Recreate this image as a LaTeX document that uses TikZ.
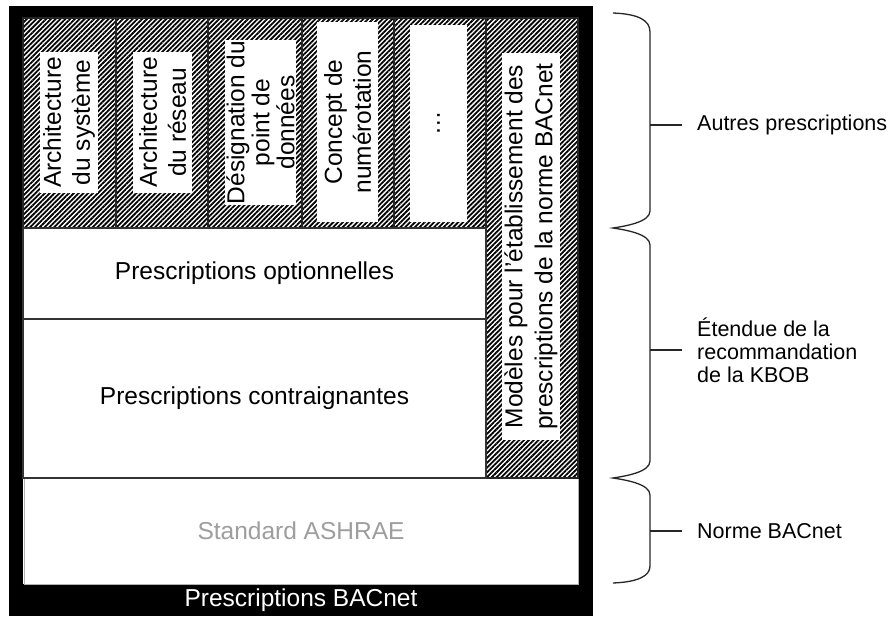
\documentclass[tikz,border=0pt]{standalone}
\usepackage{fontspec}
\setmainfont{Liberation Sans}
\usetikzlibrary{patterns.meta}
\begin{document}
\begin{tikzpicture}[x=1pt,y=-1pt,
  hatch/.style={pattern={Lines[angle=45,distance=3.4pt,line width=1.8pt]},pattern color=black},
  colbox/.style={hatch,draw=black!85,line width=1.3pt,inner sep=0pt},
  whitebox/.style={fill=white,draw=black!80,line width=1.2pt,inner sep=0pt,font=\fontsize{24.5}{29}\selectfont},
  coltext/.style={rotate=90,fill=white,align=center,inner sep=0pt,font=\fontsize{24.5}{29}\selectfont},
  bracestyle/.style={draw=black!85,line width=1.3pt},
  sidelabel/.style={anchor=west,align=left,inner sep=0pt,font=\fontsize{21.5}{23}\selectfont},
  tick/.style={draw=black!85,line width=1.3pt,shorten >=15pt}]
\useasboundingbox (0,0) rectangle (896,618);
% frame
\fill[black] (9,6) rectangle (593,616);
\fill[white] (23,18) rectangle (578,584);
% bottom box
\node[whitebox,draw=black!30,line width=0.8pt,minimum width=554,minimum height=106,text=black!38] (ashrae) at (301,531) {Standard ASHRAE};
% columns
\node[colbox,minimum width=93,minimum height=210] (c1) at (69.5,123) {};
\node[colbox,minimum width=92,minimum height=210] (c2) at (162,123) {};
\node[colbox,minimum width=94,minimum height=210] (c3) at (255,123) {};
\node[colbox,minimum width=92,minimum height=210] (c4) at (348,123) {};
\node[colbox,minimum width=92,minimum height=210] (c5) at (440,123) {};
\node[colbox,minimum width=92,minimum height=460] (c6) at (532,248) {};
% middle boxes
\node[whitebox,minimum width=463,minimum height=91] (opt) at (254.5,273.5) {Prescriptions optionnelles};
\node[whitebox,minimum width=463,minimum height=159] (contr) at (254.5,398.5) {Prescriptions contraignantes};
% column texts
\node[coltext,minimum width=141,minimum height=58] (t1) at (69,122.5) {Architecture\\du système};
\node[coltext,minimum width=141,minimum height=59] (t2) at (162.5,122.5) {Architecture\\du réseau};
\node[coltext,minimum width=165,minimum height=71,font=\fontsize{24.5}{25}\selectfont] (t3) at (260.5,122.5) {Désignation du\\point de\\données};
\node[coltext,minimum width=200,minimum height=61] (t4) at (347.5,122) {Concept de\\numérotation};
\node[coltext,minimum width=197,minimum height=57] (t5) at (438.5,123.5) {…};
\node[coltext,minimum width=387,minimum height=58,font=\fontsize{24.5}{30}\selectfont] (t6) at (531,246.5) {Modèles pour l’établissement des\\prescriptions de la norme BACnet};
% bottom label
\node[text=white,font=\fontsize{24.5}{29}\selectfont,inner sep=0pt] (bacnet) at (301,600) {Prescriptions BACnet};
% braces
\draw[bracestyle] (613,13) .. controls (638,14) and (650,20) .. (650,32)
  -- (650,211) .. controls (650,222) and (626,226) .. (613,228)
  .. controls (626,230) and (650,234) .. (650,245)
  -- (650,461) .. controls (650,472) and (626,476) .. (613,478)
  .. controls (626,480) and (650,484) .. (650,495)
  -- (650,566) .. controls (650,576) and (638,582) .. (613,583);
% labels
\coordinate (s1) at (650,125);
\coordinate (s2) at (650,350);
\coordinate (s3) at (650,531);
\node[sidelabel] (l1) at (697,125) {Autres prescriptions};
\node[sidelabel] (l2) at (697,350) {Étendue de la\\recommandation\\de la KBOB};
\node[sidelabel] (l3) at (697,531) {Norme BACnet};
\draw[tick] (s1) -- (l1.west);
\draw[tick] (s2) -- (l2.west);
\draw[tick] (s3) -- (l3.west);
\end{tikzpicture}
\end{document}
